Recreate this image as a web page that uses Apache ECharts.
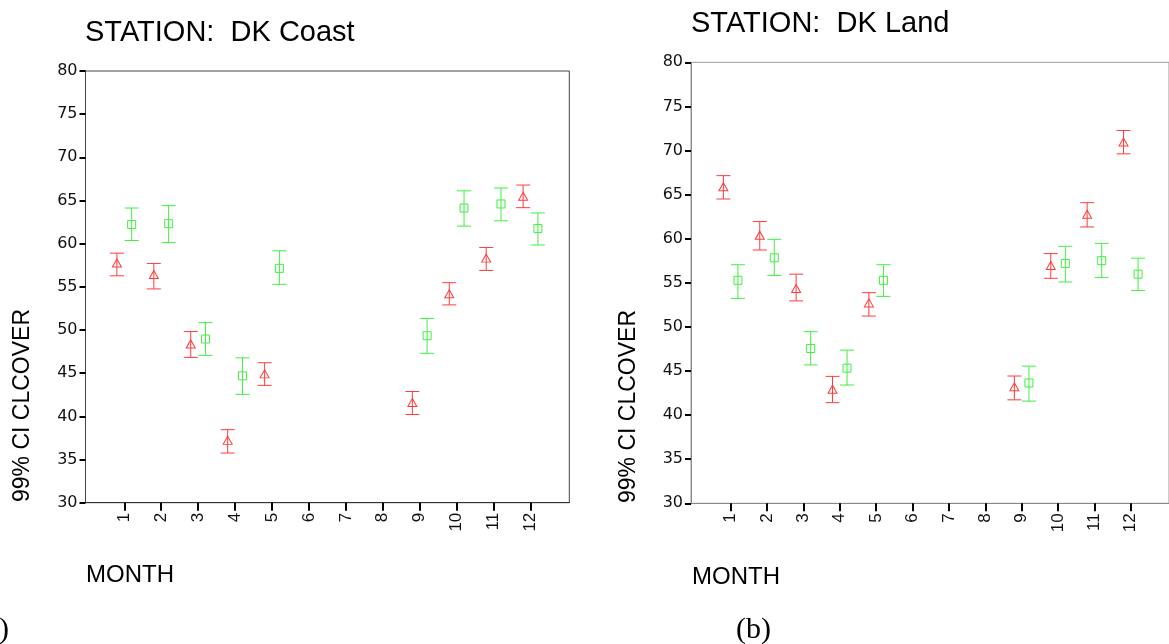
<!DOCTYPE html>
<html>
<head>
<meta charset="utf-8">
<script src="https://cdn.jsdelivr.net/npm/echarts@6/dist/echarts.min.js"></script>
<style>
html,body{margin:0;padding:0;background:#fff;}
#chart{width:1169px;height:644px;}
</style>
</head>
<body>
<div id="chart"></div>
<script>
// ---------- data ----------
const months = [1, 2, 3, 4, 5, 9, 10, 11, 12];
const monthTicks = [1, 2, 3, 4, 5, 6, 7, 8, 9, 10, 11, 12];
const yTicks = [30, 35, 40, 45, 50, 55, 60, 65, 70, 75, 80];

// STATION: DK Coast
const coastRedMean  = [57.76, 56.43, 48.39, 37.22, 44.92, 41.60, 54.19, 58.33, 65.50];
const coastRedLow   = [56.28, 54.76, 46.83, 35.75, 43.59, 40.22, 52.91, 56.90, 64.17];
const coastRedHigh  = [58.90, 57.71, 49.82, 38.46, 46.21, 42.88, 55.48, 59.56, 66.79];
const coastGreenMean = [62.22, 62.32, 48.96, 44.69, 57.14, 49.34, 64.13, 64.60, 61.75];
const coastGreenLow  = [60.37, 60.13, 47.06, 42.55, 55.29, 47.30, 62.03, 62.65, 59.85];
const coastGreenHigh = [64.13, 64.41, 50.86, 46.78, 59.18, 51.34, 66.12, 66.45, 63.56];

// STATION: DK Land
const landRedMean  = [65.89, 60.40, 54.35, 42.94, 52.72, 43.22, 56.96, 62.77, 70.97];
const landRedLow   = [64.50, 58.72, 52.95, 41.41, 51.23, 41.73, 55.51, 61.33, 69.62];
const landRedHigh  = [67.15, 61.94, 55.98, 44.39, 53.88, 44.43, 58.31, 64.08, 72.27];
const landGreenMean = [55.28, 57.84, 47.55, 45.32, 55.28, 43.64, 57.19, 57.51, 55.98];
const landGreenLow  = [53.23, 55.84, 45.69, 43.41, 53.46, 41.59, 55.09, 55.61, 54.12];
const landGreenHigh = [57.05, 59.93, 49.46, 47.36, 57.05, 45.55, 59.14, 59.47, 57.79];

// ---------- styling ----------
const RED = '#ff3c3c';
const GREEN = '#3ff03f';
const DODGE = 0.2;
const FONT = '"Liberation Sans", Arial, Helvetica, sans-serif';
const WIDE = '"DejaVu Sans", Verdana, sans-serif';

function errSeries(idx, lows, highs, color, shift) {
  return {
    type: 'custom',
    xAxisIndex: idx, yAxisIndex: idx,
    z: 2,
    encode: {x: 0, y: [1, 2]},
    data: months.map((m, i) => [m + shift, lows[i], highs[i]]),
    renderItem: function (params, api) {
      const x = api.value(0);
      const pLo = api.coord([x, api.value(1)]);
      const pHi = api.coord([x, api.value(2)]);
      const hw = 7;
      const st = {stroke: color, lineWidth: 1};
      return {
        type: 'group',
        children: [
          {type: 'line', shape: {x1: pLo[0], y1: pLo[1], x2: pHi[0], y2: pHi[1]}, style: st},
          {type: 'line', shape: {x1: pLo[0] - hw, y1: pLo[1], x2: pLo[0] + hw, y2: pLo[1]}, style: st},
          {type: 'line', shape: {x1: pHi[0] - hw, y1: pHi[1], x2: pHi[0] + hw, y2: pHi[1]}, style: st}
        ]
      };
    }
  };
}

function markSeries(idx, means, color, shift, symbol, size) {
  return {
    type: 'scatter',
    xAxisIndex: idx, yAxisIndex: idx,
    z: 3,
    symbol: symbol,
    symbolSize: size,
    itemStyle: {color: 'rgba(0,0,0,0)', borderColor: color, borderWidth: 1, opacity: 1},
    emphasis: {disabled: true},
    data: months.map((m, i) => [m + shift, means[i]])
  };
}

function xAxisCfg(idx, min, max, lineColor) {
  return {
    type: 'value', gridIndex: idx, min: min, max: max,
    axisLine: {show: true, onZero: false, lineStyle: {color: lineColor, width: 1}},
    axisTick: {show: true, length: 8, lineStyle: {color: '#000', width: 2}, customValues: monthTicks},
    axisLabel: {show: true, rotate: 90, margin: 10, fontSize: 17, color: '#111', fontFamily: FONT,
      customValues: monthTicks, formatter: v => String(v)},
    splitLine: {show: false}
  };
}

function yAxisCfg(idx, lineColor) {
  return {
    type: 'value', gridIndex: idx, min: yTicks[0], max: yTicks[yTicks.length - 1], interval: 5,
    axisLine: {show: true, onZero: false, lineStyle: {color: lineColor, width: 1}},
    axisTick: {show: true, length: 6, lineStyle: {color: '#000', width: 2}},
    axisLabel: {show: true, margin: 8, fontSize: 16, color: '#111', fontFamily: WIDE},
    splitLine: {show: false}
  };
}

const chart = echarts.init(document.getElementById('chart'), null, {renderer: 'canvas'});

chart.setOption({
  backgroundColor: '#fff',
  animation: false,
  grid: [
    {left: 85.5, top: 71, width: 483.8, height: 431.7, show: true, borderColor: '#444', borderWidth: 1, backgroundColor: 'transparent'},
    {left: 691, top: 62.3, width: 482.6, height: 441, show: true, borderColor: '#999', borderWidth: 1, backgroundColor: 'transparent'}
  ],
  xAxis: [xAxisCfg(0, -0.05, 13.05, '#333'), xAxisCfg(1, -0.09, 13.05, '#888')],
  yAxis: [yAxisCfg(0, '#444'), yAxisCfg(1, '#888')],
  series: [
    errSeries(0, coastRedLow, coastRedHigh, RED, -DODGE),
    errSeries(0, coastGreenLow, coastGreenHigh, GREEN, DODGE),
    markSeries(0, coastRedMean, RED, -DODGE, 'triangle', [9, 8]),
    markSeries(0, coastGreenMean, GREEN, DODGE, 'rect', [8, 8]),
    errSeries(1, landRedLow, landRedHigh, RED, -DODGE),
    errSeries(1, landGreenLow, landGreenHigh, GREEN, DODGE),
    markSeries(1, landRedMean, RED, -DODGE, 'triangle', [9, 8]),
    markSeries(1, landGreenMean, GREEN, DODGE, 'rect', [8, 8])
  ],
  graphic: [
    {type: 'text', x: 85, y: 32.8, style: {text: 'STATION:  DK Coast', font: '29px ' + FONT, fill: '#000', align: 'left', verticalAlign: 'middle'}},
    {type: 'text', x: 691, y: 24.2, style: {text: 'STATION:  DK Land', font: '29px ' + FONT, fill: '#000', align: 'left', verticalAlign: 'middle'}},
    {type: 'text', x: 86, y: 575, style: {text: 'MONTH', font: '24px ' + FONT, fill: '#000', align: 'left', verticalAlign: 'middle'}},
    {type: 'text', x: 692, y: 577.2, style: {text: 'MONTH', font: '24px ' + FONT, fill: '#000', align: 'left', verticalAlign: 'middle'}},
    {type: 'text', x: 23, y: 502, rotation: Math.PI / 2, style: {text: '99% CI CLCOVER', font: '23px ' + FONT, fill: '#000', align: 'left', verticalAlign: 'middle'}},
    {type: 'text', x: 629, y: 503, rotation: Math.PI / 2, style: {text: '99% CI CLCOVER', font: '23px ' + FONT, fill: '#000', align: 'left', verticalAlign: 'middle'}},
    {type: 'text', x: 9, y: 630, style: {text: '(a)', font: '30px "Liberation Serif", "Times New Roman", serif', fill: '#000', align: 'right', verticalAlign: 'middle'}},
    {type: 'text', x: 736, y: 630, style: {text: '(b)', font: '30px "Liberation Serif", "Times New Roman", serif', fill: '#000', align: 'left', verticalAlign: 'middle'}}
  ]
});
</script>
</body>
</html>
